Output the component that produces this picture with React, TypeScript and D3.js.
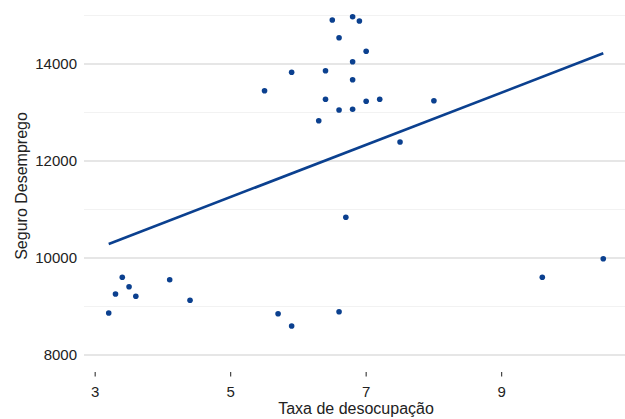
import React from "react";
import * as d3 from "d3";

const taxa = [3.2, 3.3, 3.4, 3.5, 3.6, 4.1, 4.4, 5.7, 5.9, 5.5, 5.9, 6.3, 6.4, 6.4, 6.5, 6.6, 6.6, 6.6, 6.7, 6.8, 6.8, 6.8, 6.8, 6.9, 7.0, 7.0, 7.2, 7.5, 8.0, 9.6, 10.5];
const seguro = [8866, 9258, 9603, 9409, 9211, 9553, 9128, 8852, 8598, 13450, 13829, 12831, 13862, 13273, 14908, 14543, 13052, 8893, 10840, 14976, 14048, 13677, 13066, 14887, 14262, 13231, 13273, 12392, 13244, 9603, 9986];
const fitX = [3.2, 10.5];
const fitY = [10289, 14221];
const xTicks = [3, 5, 7, 9];
const yMajor = [8000, 10000, 12000, 14000];
const yMinor = [9000, 11000, 13000, 15000];

const W = 625, H = 419;
const left = 84, right = 628, top = 0, bottom = 372;
const col = "#0b408f";

export default function App() {
  const x = d3.scaleLinear().domain([2.835, 10.865]).range([left, right]);
  const y = d3.scaleLinear().domain([7650, 15320]).range([bottom, top]);
  const line = d3.line<number>().x((d, i) => x(fitX[i])).y((d) => y(d));
  const font = "'Liberation Sans', Arial, sans-serif";
  return (
    <div style={{ position: "absolute", left: 0, top: 0 }}>
      <svg width={W} height={H} style={{ display: "block", background: "#fff" }} fontFamily={font}>
        {yMinor.map((v) => (
          <line key={"mi" + v} x1={left} x2={right} y1={y(v)} y2={y(v)} stroke="#ededed" strokeWidth={0.8} />
        ))}
        {yMajor.map((v) => (
          <line key={"ma" + v} x1={left} x2={right} y1={y(v)} y2={y(v)} stroke="#dedede" strokeWidth={1.3} />
        ))}
        {yMajor.map((v) => (
          <text key={"yl" + v} x={77} y={y(v)} dy="0.36em" textAnchor="end" fontSize={15} fill="#222">{v}</text>
        ))}
        {xTicks.map((v) => (
          <g key={"xt" + v}>
            <line x1={x(v)} x2={x(v)} y1={bottom} y2={bottom + 4.5} stroke="#333" strokeWidth={1.1} />
            <text x={x(v)} y={397} textAnchor="middle" fontSize={15} fill="#222">{v}</text>
          </g>
        ))}
        <path d={line(fitY) || ""} fill="none" stroke={col} strokeWidth={2.6} />
        {taxa.map((t, i) => (
          <circle key={"p" + i} cx={x(t)} cy={y(seguro[i])} r={2.8} fill={col} />
        ))}
        <text x={(left + right) / 2} y={414} textAnchor="middle" fontSize={16} fill="#222">Taxa de desocupação</text>
        <text transform={`translate(26.5, ${(top + bottom) / 2}) rotate(-90)`} textAnchor="middle" fontSize={16} fill="#222">Seguro Desemprego</text>
      </svg>
    </div>
  );
}
